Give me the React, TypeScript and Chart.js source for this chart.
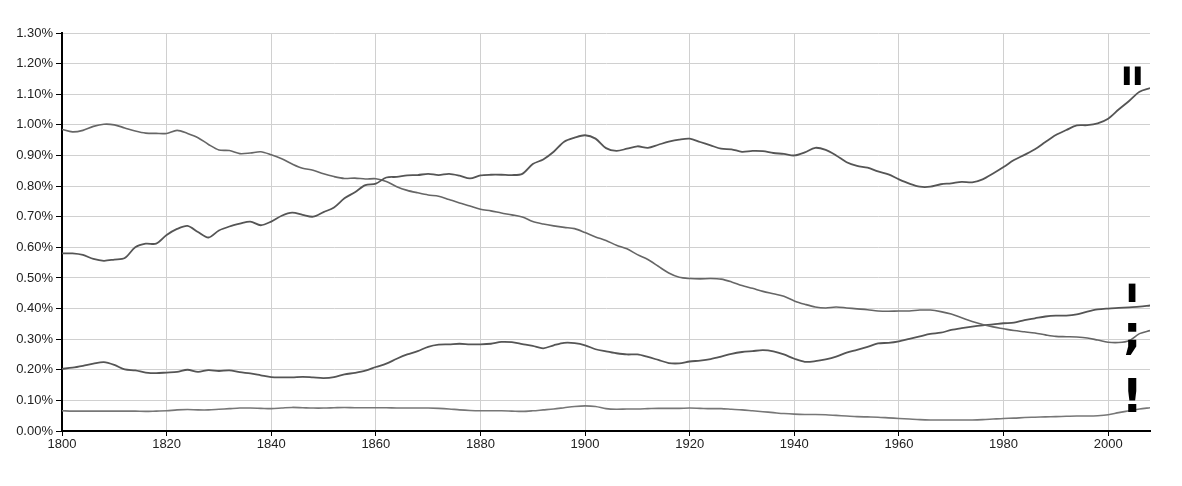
import { useEffect, useRef } from 'react';
import { Chart, registerables } from 'chart.js';

Chart.register(...registerables);

const years = [
  1800, 1802, 1804, 1806, 1808, 1810, 1812, 1814, 1816, 1818,
  1820, 1822, 1824, 1826, 1828, 1830, 1832, 1834, 1836, 1838,
  1840, 1842, 1844, 1846, 1848, 1850, 1852, 1854, 1856, 1858,
  1860, 1862, 1864, 1866, 1868, 1870, 1872, 1874, 1876, 1878,
  1880, 1882, 1884, 1886, 1888, 1890, 1892, 1894, 1896, 1898,
  1900, 1902, 1904, 1906, 1908, 1910, 1912, 1914, 1916, 1918,
  1920, 1922, 1924, 1926, 1928, 1930, 1932, 1934, 1936, 1938,
  1940, 1942, 1944, 1946, 1948, 1950, 1952, 1954, 1956, 1958,
  1960, 1962, 1964, 1966, 1968, 1970, 1972, 1974, 1976, 1978,
  1980, 1982, 1984, 1986, 1988, 1990, 1992, 1994, 1996, 1998,
  2000, 2002, 2004, 2006, 2008,
];

// double quote "
const quote = [
  0.58, 0.58, 0.575, 0.562, 0.556, 0.56, 0.565, 0.6, 0.612, 0.612,
  0.64, 0.66, 0.67, 0.65, 0.632, 0.655, 0.668, 0.677, 0.684, 0.672,
  0.684, 0.703, 0.713, 0.706, 0.7, 0.715, 0.73, 0.76, 0.78, 0.803,
  0.808, 0.828, 0.83, 0.835, 0.836, 0.84, 0.836, 0.84, 0.834, 0.825,
  0.835, 0.837, 0.837, 0.836, 0.84, 0.872, 0.887, 0.912, 0.945, 0.958,
  0.966, 0.955, 0.924, 0.915, 0.922, 0.93, 0.925, 0.935, 0.945, 0.952,
  0.955, 0.944, 0.933, 0.922, 0.92, 0.912, 0.915, 0.914, 0.908, 0.905,
  0.9, 0.91, 0.925, 0.918, 0.9, 0.878, 0.866, 0.86, 0.848, 0.838,
  0.822, 0.808, 0.798, 0.798, 0.806, 0.809, 0.814, 0.812, 0.822, 0.841,
  0.862, 0.885, 0.902, 0.92, 0.944, 0.967, 0.983, 0.998, 0.999, 1.005,
  1.02, 1.05, 1.078, 1.108, 1.12,
];

// semicolon ;
const semicolon = [
  0.985, 0.977, 0.982, 0.995, 1.002, 1.0, 0.99, 0.98, 0.973, 0.972,
  0.972, 0.982, 0.972, 0.958, 0.936, 0.918, 0.916, 0.906, 0.908, 0.912,
  0.902, 0.889, 0.872, 0.858, 0.852, 0.84, 0.831, 0.825, 0.826, 0.823,
  0.824, 0.815, 0.798, 0.786, 0.778, 0.771, 0.767, 0.756, 0.745, 0.735,
  0.724, 0.719, 0.712, 0.706, 0.699, 0.684, 0.676, 0.67, 0.665, 0.661,
  0.648, 0.634, 0.622, 0.607, 0.595, 0.576, 0.56, 0.538, 0.516, 0.502,
  0.498, 0.497, 0.498, 0.496, 0.487, 0.475, 0.466, 0.456, 0.448, 0.44,
  0.425, 0.414, 0.405, 0.402, 0.405, 0.402, 0.399, 0.396, 0.392, 0.391,
  0.392, 0.392, 0.395, 0.395, 0.39, 0.382, 0.37, 0.358, 0.348, 0.34,
  0.334, 0.328, 0.324, 0.32, 0.314, 0.309, 0.308, 0.307, 0.304, 0.297,
  0.29, 0.289, 0.295, 0.318, 0.328,
];

// apostrophe '
const apostrophe = [
  0.203, 0.207, 0.213, 0.22, 0.225, 0.216, 0.201, 0.198, 0.191, 0.189,
  0.191, 0.193, 0.2, 0.193, 0.199, 0.196, 0.198, 0.192, 0.188, 0.182,
  0.176, 0.175, 0.175, 0.177, 0.175, 0.173, 0.176, 0.185, 0.19, 0.197,
  0.209, 0.22, 0.236, 0.25, 0.261, 0.275, 0.282, 0.283, 0.285, 0.283,
  0.283, 0.285, 0.291, 0.29, 0.284, 0.278, 0.27, 0.28, 0.288, 0.287,
  0.28, 0.267, 0.26, 0.254, 0.25, 0.25, 0.242, 0.232, 0.222, 0.221,
  0.227, 0.23, 0.235, 0.243, 0.252, 0.258, 0.261, 0.264, 0.26, 0.25,
  0.236, 0.226, 0.228, 0.234, 0.243, 0.256, 0.265, 0.275, 0.286, 0.288,
  0.293, 0.301, 0.309, 0.317, 0.321, 0.33, 0.336, 0.341, 0.345, 0.348,
  0.352, 0.354, 0.362, 0.368, 0.374, 0.377, 0.377, 0.381, 0.39, 0.397,
  0.4, 0.402, 0.404, 0.406, 0.41,
];

// exclamation mark !
const exclamation = [
  0.066, 0.065, 0.065, 0.065, 0.065, 0.065, 0.065, 0.065, 0.064, 0.065,
  0.066, 0.069, 0.07, 0.069, 0.069, 0.071, 0.073, 0.075, 0.075, 0.074,
  0.073, 0.075, 0.077, 0.076, 0.075, 0.075, 0.076, 0.077, 0.076, 0.076,
  0.076, 0.076, 0.075, 0.075, 0.075, 0.075, 0.074, 0.072, 0.069, 0.067,
  0.066, 0.066, 0.066, 0.065, 0.064, 0.066, 0.069, 0.072, 0.076, 0.08,
  0.082, 0.08, 0.073, 0.071, 0.072, 0.072, 0.073, 0.074, 0.074, 0.074,
  0.075, 0.074, 0.073, 0.073, 0.071, 0.069, 0.066, 0.063, 0.06, 0.057,
  0.055, 0.054, 0.054, 0.053, 0.051, 0.049, 0.047, 0.046, 0.045, 0.043,
  0.041, 0.039, 0.037, 0.036, 0.036, 0.036, 0.036, 0.036, 0.037, 0.039,
  0.041, 0.042, 0.044, 0.045, 0.046, 0.047, 0.048, 0.049, 0.049, 0.05,
  0.053, 0.06, 0.066, 0.072, 0.076,
];

// big glyph labels at the right end: [text, year, value at baseline, font size, x squeeze]
const markLabels: [string, number, number, number, number][] = [
  ['"', 2004.6, 1.029, 68, 0.75],
  ["'", 2004.6, 0.32, 68, 0.85],
  [';', 2004.6, 0.27, 46, 1],
  ['!', 2004.6, 0.063, 46, 1],
];

const toPoints = (vals: number[]) => vals.map((v, i) => ({ x: years[i], y: v }));

const glyphPlugin = {
  id: 'glyphs',
  afterDatasetsDraw(chart: any) {
    const { ctx, scales } = chart;
    markLabels.forEach(([t, x, y, size, sq]) => {
      ctx.save();
      ctx.fillStyle = '#000';
      ctx.textAlign = 'center';
      ctx.textBaseline = 'alphabetic';
      ctx.font = `bold ${size}px "DejaVu Sans"`;
      ctx.translate(scales.x.getPixelForValue(x), scales.y.getPixelForValue(y));
      ctx.scale(sq, 1);
      ctx.fillText(t, 0, 0);
      ctx.restore();
    });
  },
};

const App = () => {
  const canvasRef = useRef<HTMLCanvasElement>(null);

  useEffect(() => {
    document.body.style.margin = '0';
    if (!canvasRef.current) return;

    const line = (label: string, vals: number[], color: string, width: number) => ({
      label,
      data: toPoints(vals),
      borderColor: color,
      borderWidth: width,
      pointRadius: 0,
      tension: 0.3,
      fill: false,
    });

    const chart = new Chart(canvasRef.current, {
      type: 'line',
      data: {
        datasets: [
          line('"', quote, '#555', 1.8),
          line(';', semicolon, '#666', 1.6),
          line("'", apostrophe, '#555', 1.8),
          line('!', exclamation, '#777', 1.6),
        ],
      },
      options: {
        responsive: false,
        animation: false,
        layout: { padding: { top: 33, right: 32, left: 0, bottom: 0 } },
        plugins: { legend: { display: false }, tooltip: { enabled: false } },
        scales: {
          x: {
            type: 'linear',
            min: 1800,
            max: 2008,
            afterFit: (s: any) => { s.height = 55; },
            border: { color: '#000', width: 2 },
            grid: { color: '#d0d0d0', lineWidth: 1, tickColor: '#000', tickLength: 5 },
            ticks: {
              stepSize: 20,
              includeBounds: false,
              color: '#222',
              font: { family: '"Liberation Sans", Arial, sans-serif', size: 13 },
              padding: 1,
              maxRotation: 0,
              callback: (v: any) => String(v),
            },
          },
          y: {
            min: 0,
            max: 1.3,
            afterFit: (s: any) => { s.width = 62; },
            border: { color: '#000', width: 2 },
            grid: { color: '#d0d0d0', lineWidth: 1, tickColor: '#000', tickLength: 6 },
            ticks: {
              stepSize: 0.1,
              color: '#222',
              font: { family: '"Liberation Sans", Arial, sans-serif', size: 13 },
              padding: 3,
              callback: (v: any) => Number(v).toFixed(2) + '%',
            },
          },
        },
      },
      plugins: [glyphPlugin],
    });

    return () => {
      chart.destroy();
    };
  }, []);

  return (
    <div style={{ width: 1182, height: 486, background: '#fff' }}>
      <canvas ref={canvasRef} width={1182} height={486} />
    </div>
  );
};

export default App;
